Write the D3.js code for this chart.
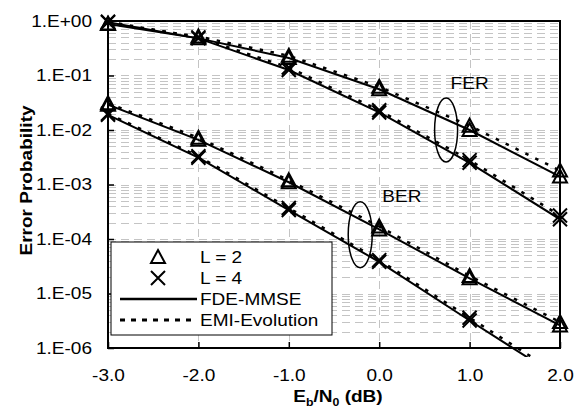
<!DOCTYPE html>
<html>
<head>
<meta charset="utf-8">
<script src="https://cdn.jsdelivr.net/npm/d3@7"></script>
<style>
  body { margin: 0; background: #fff; }
  svg { display: block; font-family: "Liberation Sans", Arial, sans-serif; }
</style>
</head>
<body>
<svg id="chart" width="576" height="410"></svg>
<script>
// Eb/N0 points (dB)
var ebn0 = [-3, -2, -1, 0, 1, 2];

// FER, solid = FDE-MMSE, dotted = EMI-Evolution
var ferL2Fde = [0.88, 0.48, 0.21, 0.056, 0.0100, 1.4e-3];
var ferL2Emi = [0.90, 0.52, 0.23, 0.062, 0.0120, 1.8e-3];
var ferL4Fde = [0.95, 0.48, 0.126, 0.021, 2.5e-3, 2.3e-4];
var ferL4Emi = [0.97, 0.50, 0.140, 0.023, 2.8e-3, 2.7e-4];

// BER
var berL2Fde = [0.029, 6.6e-3, 1.10e-3, 1.5e-4, 1.9e-5, 2.6e-6];
var berL2Emi = [0.031, 7.2e-3, 1.20e-3, 1.7e-4, 2.1e-5, 3.0e-6];
var berL4Fde = [0.019, 3.1e-3, 3.4e-4, 3.8e-5, 3.2e-6, 2.8e-7];
var berL4Emi = [0.020, 3.3e-3, 3.7e-4, 4.1e-5, 3.6e-6, 3.2e-7];

var xTicks = [-3, -2, -1, 0, 1, 2];
var yTicks = [1, 1e-1, 1e-2, 1e-3, 1e-4, 1e-5, 1e-6];

var series = [
    { values: ferL2Fde, marker: "tri", dotted: false },
    { values: ferL2Emi, marker: "tri", dotted: true },
    { values: ferL4Fde, marker: "cross", dotted: false },
    { values: ferL4Emi, marker: "cross", dotted: true },
    { values: berL2Fde, marker: "tri", dotted: false },
    { values: berL2Emi, marker: "tri", dotted: true },
    { values: berL4Fde, marker: "cross", dotted: false },
    { values: berL4Emi, marker: "cross", dotted: true }
];

var W = 576, H = 410;
var margin = { top: 21, right: 16, bottom: 62, left: 108 };
var SX = 1.12; // text in the original looks horizontally stretched

var svg = d3.select("#chart");

var x = d3.scaleLinear().domain([-3, 2]).range([margin.left, W - margin.right]);
var y = d3.scaleLog().domain([1e-6, 1]).range([H - margin.bottom, margin.top]);

var plotL = x.range()[0], plotR = x.range()[1];
var plotT = y.range()[1], plotB = y.range()[0];

function stretchText(sel) {
    sel.each(function() {
        var t = d3.select(this);
        t.attr("x", (+t.attr("x") || 0) / SX).attr("transform", "scale(" + SX + ",1)");
    });
}

function label(px, py, str, opts) {
    opts = opts || {};
    return svg.append("g")
        .attr("transform", "translate(" + px + "," + py + ")")
        .append("text")
        .attr("transform", "scale(" + SX + ",1)")
        .attr("text-anchor", opts.anchor || "start")
        .attr("font-size", opts.size || 17)
        .attr("fill", "#000")
        .text(str);
}

// grid: dashed grey at every log step, and at x majors
var gridVals = [];
for (var k = -6; k < 0; k++) {
    for (var m = 1; m <= 9; m++) gridVals.push(m * Math.pow(10, k));
}

var grid = svg.append("g")
    .attr("stroke", "#c4c4c4")
    .attr("stroke-width", 1)
    .attr("stroke-dasharray", "8,5");

grid.selectAll("line.h").data(gridVals).join("line")
    .attr("class", "h")
    .attr("x1", plotL).attr("x2", plotR)
    .attr("y1", function(d) { return Math.round(y(d)) + 0.5; })
    .attr("y2", function(d) { return Math.round(y(d)) + 0.5; });

grid.selectAll("line.v").data(xTicks.slice(1, -1)).join("line")
    .attr("class", "v")
    .attr("y1", plotT).attr("y2", plotB)
    .attr("x1", function(d) { return Math.round(x(d)) + 0.5; })
    .attr("x2", function(d) { return Math.round(x(d)) + 0.5; });

// axes (ticks point inward)
function expFmt(v) {
    var e = Math.round(Math.log10(v));
    var s = String(Math.abs(e)).padStart(2, "0");
    return "1.E" + (e >= 0 ? "+" : "-") + s;
}

var yAxis = svg.append("g")
    .attr("transform", "translate(" + plotL + ",0)")
    .call(d3.axisLeft(y).tickValues(yTicks).tickFormat(expFmt).tickSize(-6).tickPadding(16));

var xAxis = svg.append("g")
    .attr("transform", "translate(0," + plotB + ")")
    .call(d3.axisBottom(x).tickValues(xTicks).tickFormat(function(d) { return d.toFixed(1); })
        .tickSize(-6).tickPadding(21));

[yAxis, xAxis].forEach(function(ax) {
    ax.select(".domain").remove();
    ax.selectAll(".tick line").attr("stroke", "#000").attr("stroke-width", 1.5);
    ax.selectAll(".tick text")
        .attr("font-family", "Liberation Sans, Arial, sans-serif")
        .attr("font-size", 17)
        .attr("fill", "#000")
        .call(stretchText);
});

// series lines, clipped a little below the frame like the original
svg.append("clipPath").attr("id", "clip")
    .append("rect")
    .attr("x", plotL).attr("y", plotT - 2)
    .attr("width", plotR - plotL).attr("height", plotB - plotT + 11);

var line = d3.line()
    .x(function(d) { return x(d[0]); })
    .y(function(d) { return y(d[1]); });

var lines = svg.append("g").attr("clip-path", "url(#clip)");

series.forEach(function(s) {
    lines.append("path")
        .datum(d3.zip(ebn0, s.values))
        .attr("d", line)
        .attr("fill", "none")
        .attr("stroke", "#000")
        .attr("stroke-width", s.dotted ? 2.5 : 2)
        .attr("stroke-dasharray", s.dotted ? "3.5,7.5" : null);
});

// markers
var triPath = "M0,-7L7,6L-7,6Z";
var crossPath = "M-7,-7L7,7M7,-7L-7,7";

function drawMarker(g, kind) {
    g.append("path")
        .attr("d", kind === "tri" ? triPath : crossPath)
        .attr("fill", "none")
        .attr("stroke", "#000")
        .attr("stroke-width", 2);
}

series.forEach(function(s) {
    d3.zip(ebn0, s.values)
        .filter(function(d) { return d[1] >= 1e-6; })
        .forEach(function(d) {
            var g = svg.append("g").attr("transform", "translate(" + x(d[0]) + "," + y(d[1]) + ")");
            drawMarker(g, s.marker);
        });
});

// frame
svg.append("rect")
    .attr("x", plotL).attr("y", plotT)
    .attr("width", plotR - plotL).attr("height", plotB - plotT)
    .attr("fill", "none")
    .attr("stroke", "#000")
    .attr("stroke-width", 2);

// FER / BER annotations
svg.append("ellipse")
    .attr("cx", x(0.74)).attr("cy", y(1e-2))
    .attr("rx", 11.5).attr("ry", 32)
    .attr("fill", "none").attr("stroke", "#000").attr("stroke-width", 1.5);
label(x(1.0), y(0.056), "FER", { anchor: "middle" });

svg.append("ellipse")
    .attr("cx", x(-0.21)).attr("cy", y(1.2e-4))
    .attr("rx", 12).attr("ry", 33)
    .attr("fill", "none").attr("stroke", "#000").attr("stroke-width", 1.5);
label(x(0.25), y(4.8e-4), "BER", { anchor: "middle" });

// legend
var lg = svg.append("g").attr("transform", "translate(" + (plotL + 3) + "," + (plotB - 106) + ")");
lg.append("rect")
    .attr("width", 221).attr("height", 93)
    .attr("fill", "#fff").attr("stroke", "#000").attr("stroke-width", 1);

var legendItems = [
    { text: "L = 2", kind: "tri" },
    { text: "L = 4", kind: "cross" },
    { text: "FDE-MMSE", kind: "solid" },
    { text: "EMI-Evolution", kind: "dotted" }
];

legendItems.forEach(function(it, i) {
    var cy = 15 + i * 21;
    if (it.kind === "tri" || it.kind === "cross") {
        drawMarker(lg.append("g").attr("transform", "translate(47," + cy + ")"), it.kind);
    } else {
        lg.append("line")
            .attr("x1", 9).attr("x2", 86).attr("y1", cy).attr("y2", cy)
            .attr("stroke", "#000")
            .attr("stroke-width", it.kind === "dotted" ? 3 : 2.5)
            .attr("stroke-dasharray", it.kind === "dotted" ? "5,6" : null);
    }
    lg.append("g").attr("transform", "translate(89," + (cy + 6) + ")")
        .append("text")
        .attr("transform", "scale(" + SX + ",1)")
        .attr("font-size", 17)
        .text(it.text);
});

// axis titles
var xt = svg.append("g").attr("transform", "translate(" + ((plotL + plotR) / 2 + 4) + "," + 402 + ")")
    .append("text")
    .attr("transform", "scale(" + SX + ",1)")
    .attr("text-anchor", "middle")
    .attr("font-size", 17)
    .attr("font-weight", "bold");
xt.append("tspan").text("E");
xt.append("tspan").attr("font-size", 11).attr("dy", 4).text("b");
xt.append("tspan").attr("dy", -4).text("/N");
xt.append("tspan").attr("font-size", 11).attr("dy", 4).text("0");
xt.append("tspan").attr("dy", -4).text(" (dB)");

svg.append("g").attr("transform", "translate(32," + ((plotT + plotB) / 2 - 4) + ") rotate(-90)")
    .append("text")
    .attr("transform", "scale(" + SX + ",1)")
    .attr("text-anchor", "middle")
    .attr("font-size", 17)
    .attr("font-weight", "bold")
    .text("Error Probability");
</script>
</body>
</html>
